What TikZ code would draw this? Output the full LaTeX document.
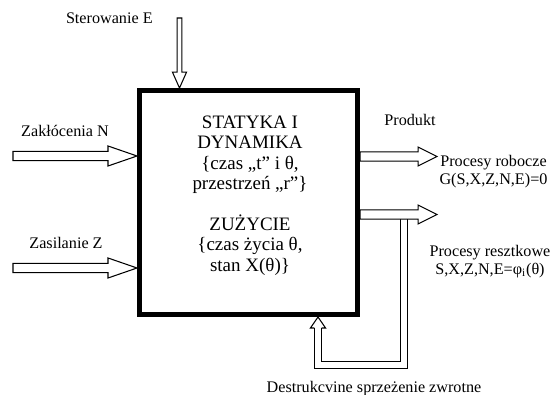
\documentclass[tikz,border=0pt]{standalone}
\usepackage{fontspec}
\setmainfont{Liberation Serif}
\usetikzlibrary{calc}

% hollow block arrow: from, to, shaft half width, head half width, head length
\newcommand{\hollowarrow}[5]{%
  \draw[blockarrow] let \p1=(#1), \p2=(#2),
      \n1={atan2(\y2-\y1,\x2-\x1)}, \n2={veclen(\x2-\x1,\y2-\y1)} in
    [shift={(\p1)}, rotate=\n1]
    (0pt,-#3) -- ({\n2-#5},-#3) -- ({\n2-#5},-#4) -- (\n2,0pt)
    -- ({\n2-#5},#4) -- ({\n2-#5},#3) -- (0pt,#3) -- cycle;}

\begin{document}
\begin{tikzpicture}[
  blockarrow/.style={draw, line width=0.6pt, fill=white, line join=miter},
  lbl/.style={font=\fontsize{9.2}{10.2}\selectfont, align=center, inner sep=0pt},
  fbline/.style={double, double distance=3.6pt, line width=0.6pt}]
  \useasboundingbox (0,0) rectangle (11,7.88);

  % the object
  \node[draw, line width=0.1cm, minimum width=4.36cm, minimum height=4.48cm,
    inner sep=0pt] (box) at (4.97,3.83) {};
  \node[font=\fontsize{10.8}{11.6}\selectfont, align=center] (boxtxt) at (5.0,3.97)
    {STATYKA I\\DYNAMIKA\\\{czas „t” i θ,\\przestrzeń „r”\}\\[11.6pt]%
     ZUŻYCIE\\\{czas życia θ,\\stan X(θ)\}};

  \coordinate (ctrl) at (3.59,7.52);
  \coordinate (nin) at (0.26,4.76);
  \coordinate (zin) at (0.26,2.52);
  \coordinate (prodout) at (8.74,4.75);
  \coordinate (resout) at (8.74,3.59);
  \coordinate (fbtop) at (8.08,3.5);
  \coordinate (fbbot) at (6.36,0.58);
  \coordinate (fbhead) at (6.36,1.32);

  % inputs
  \hollowarrow{ctrl}{box.north -| ctrl}{1.35pt}{4pt}{9pt}
  \hollowarrow{nin}{box.west |- nin}{2.65pt}{5.7pt}{16.5pt}
  \hollowarrow{zin}{box.west |- zin}{2.65pt}{5.7pt}{16.5pt}

  % feedback loop
  \draw[fbline] (fbtop) |- (fbbot) -- (fbhead);
  \draw[line width=0.6pt, line join=miter] ([xshift=-2.1pt]fbhead) -- ([xshift=-4.3pt]fbhead)
    -- (box.south -| fbhead) -- ([xshift=4.3pt]fbhead) -- ([xshift=2.1pt]fbhead);

  % outputs
  \hollowarrow{box.east |- prodout}{prodout}{2.6pt}{5.4pt}{10.8pt}
  \hollowarrow{box.east |- resout}{resout}{2.6pt}{5.4pt}{10.8pt}

  % labels
  \node[lbl, anchor=east] (ster) at (3.06,7.52) {Sterowanie E};
  \node[lbl] (dist) at (1.3,5.26) {Zakłócenia N};
  \node[lbl] (supp) at (1.32,3.02) {Zasilanie Z};
  \node[lbl] (prod) at (8.2,5.48) {Produkt};
  \node[lbl] (work) at (9.87,4.45) {Procesy robocze\\G(S,X,Z,N,E)=0};
  \node[lbl] (rest) at (9.8,2.64) {Procesy resztkowe\\S,X,Z,N,E=φ\textsubscript{i}(θ)};
  \node[lbl, anchor=base] (fb) at (7.48,0.03) {Destrukcvine sprzeżenie zwrotne};
\end{tikzpicture}
\end{document}
